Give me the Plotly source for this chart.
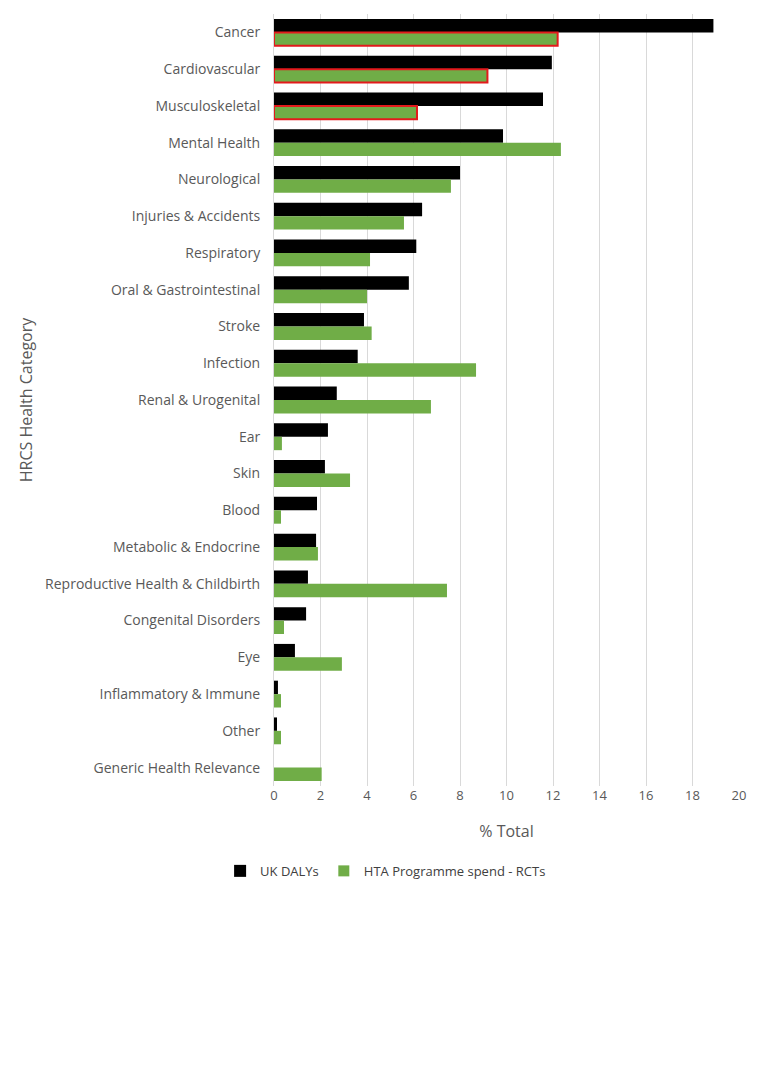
import plotly.graph_objects as go

categories = ["Cancer", "Cardiovascular", "Musculoskeletal", "Mental Health", "Neurological",
              "Injuries & Accidents", "Respiratory", "Oral & Gastrointestinal", "Stroke",
              "Infection", "Renal & Urogenital", "Ear", "Skin", "Blood",
              "Metabolic & Endocrine", "Reproductive Health & Childbirth",
              "Congenital Disorders", "Eye", "Inflammatory & Immune", "Other",
              "Generic Health Relevance"]
uk_dalys = [18.9, 11.95, 11.57, 9.85, 8.0, 6.37, 6.12, 5.8, 3.87, 3.6, 2.7, 2.32, 2.19,
            1.85, 1.81, 1.46, 1.38, 0.9, 0.17, 0.13, 0.0]
hta_spend = [12.2, 9.18, 6.15, 12.34, 7.61, 5.59, 4.13, 4.0, 4.2, 8.69, 6.75, 0.34, 3.27,
             0.3, 1.89, 7.44, 0.43, 2.92, 0.3, 0.3, 2.05]
highlighted = ["Cancer", "Cardiovascular", "Musculoskeletal"]

grey = "#595959"
green = "#70AD47"
font = "Open Sans, Liberation Sans, sans-serif"

fig = go.Figure()
fig.add_trace(go.Bar(y=categories, x=uk_dalys, orientation="h", name="UK DALYs",
                     marker=dict(color="#000000", line=dict(width=0))))
fig.add_trace(go.Bar(
    y=categories, x=hta_spend, orientation="h", name="HTA Programme spend - RCTs",
    showlegend=False,
    marker=dict(color=green,
                line=dict(color=["#E31A1C" if c in highlighted else green for c in categories],
                          width=[2 if c in highlighted else 0 for c in categories]))))
# legend entry for the green series without the red outline
fig.add_trace(go.Scatter(y=[None], x=[None], mode="markers", name="HTA Programme spend - RCTs",
                         marker=dict(color=green, symbol="square", size=11), hoverinfo="skip"))

fig.update_layout(
    width=762, height=1090,
    margin=dict(l=266, r=31, t=6, b=312, autoexpand=False),
    plot_bgcolor="white", paper_bgcolor="white",
    barmode="group", bargap=0.27, bargroupgap=0,
    font=dict(family=font, color=grey, size=13),
    legend=dict(orientation="h", x=0.24, xanchor="center", y=-0.11, yanchor="middle",
                font=dict(size=13, color="#404040"), traceorder="normal"),
    showlegend=True,
)
fig.update_xaxes(range=[0, 20], dtick=2, showgrid=True, gridcolor="#D9D9D9", gridwidth=1,
                 zeroline=False, showline=False, ticks="", tickfont=dict(size=13, color=grey),
                 automargin=False,
                 title=dict(text="% Total", font=dict(size=16, color=grey), standoff=22))
fig.update_yaxes(autorange="reversed", showline=True, linecolor="#D9D9D9", linewidth=1,
                 ticks="", tickfont=dict(size=14, color=grey), automargin=False,
                 ticklabelstandoff=10,
                 title=dict(text="HRCS Health Category", font=dict(size=16, color=grey),
                            standoff=8))

fig.write_html("out.html")
